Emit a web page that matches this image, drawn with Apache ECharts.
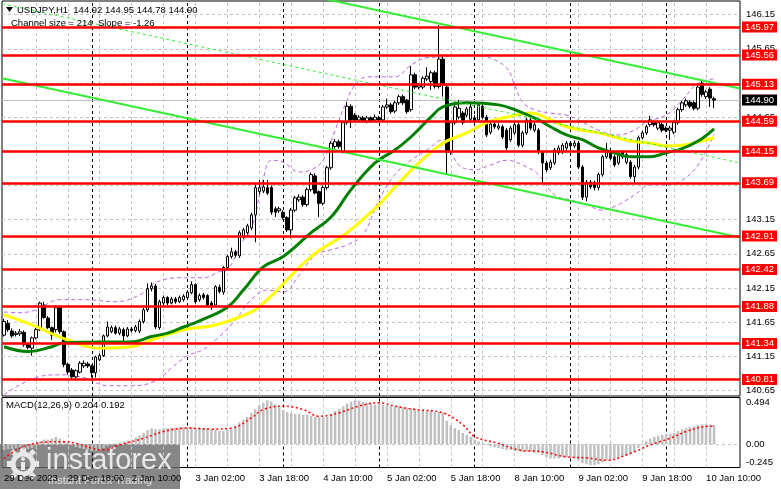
<!DOCTYPE html>
<html><head><meta charset="utf-8">
<script src="https://cdn.jsdelivr.net/npm/echarts@6/dist/echarts.min.js"></script>
<style>html,body{margin:0;padding:0;background:#fff}#c{width:781px;height:489px}</style>
</head><body><div id="c"></div>
<script>
// ---------- timeline ----------
const tradingDays = [['29 Dec',2,23],['2 Jan',0,23],['3 Jan',0,23],['4 Jan',0,23],['5 Jan',0,23],['8 Jan',0,23],['9 Jan',0,23],['10 Jan',0,18]];
const categories = [];
tradingDays.forEach(function(d){ for (let h=d[1]; h<=d[2]; h++) categories.push(d[0]+' '+String(h).padStart(2,'0')+':00'); });
const xTickIndex = [0,16,32,48,64,80,96,112,128,144,160,176];
const xTickText = ['29 Dec 2023','29 Dec 18:00','2 Jan 10:00','3 Jan 02:00','3 Jan 18:00','4 Jan 10:00','5 Jan 02:00','5 Jan 18:00','8 Jan 10:00','9 Jan 02:00','9 Jan 18:00','10 Jan 10:00'];
const vGridIndex = [8,16,24,32,40,48,56,64,72,80,88,96,104,112,120,128,136,144,152,160,168,176];

// ---------- price data (H1) ----------
const opens = [141.46,141.63,141.52,141.47,141.48,141.50,141.32,141.27,141.42,141.54,
141.90,141.71,141.57,141.54,141.86,141.51,141.03,140.95,140.85,140.92,
141.01,141.04,141.01,140.91,141.10,141.16,141.45,141.51,141.57,141.49,
141.54,141.45,141.55,141.53,141.52,141.66,141.83,142.14,142.18,141.57,
141.93,142.01,141.93,141.99,141.95,141.98,142.01,142.08,142.20,141.98,
142.05,142.04,141.93,141.90,142.16,142.09,142.45,142.61,142.68,142.62,
142.90,142.96,143.03,143.22,143.56,143.57,143.62,143.62,143.31,143.28,
143.26,143.18,143.00,143.29,143.44,143.48,143.37,143.59,143.79,143.56,
143.39,143.62,143.91,144.22,144.29,144.14,144.57,144.81,144.68,144.61,
144.64,144.59,144.64,144.61,144.64,144.61,144.80,144.83,144.74,144.86,
144.95,144.90,144.76,145.27,145.09,145.09,145.21,145.17,145.30,145.10,
145.50,145.09,144.14,144.57,144.65,144.71,144.68,144.62,144.64,144.61,
144.81,144.65,144.43,144.55,144.49,144.51,144.46,144.32,144.42,144.54,
144.24,144.42,144.61,144.46,144.46,144.13,143.98,143.91,143.98,144.13,
144.14,144.20,144.27,144.23,144.27,143.92,143.48,143.70,143.69,143.62,
143.81,144.07,144.13,144.07,143.98,144.14,143.99,143.99,143.78,143.92,
144.35,144.42,144.54,144.58,144.49,144.54,144.49,144.46,144.43,144.57,
144.76,144.83,144.87,144.86,144.78,145.15,144.95,145.06,144.92];
const closes = [141.66,141.54,141.45,141.49,141.51,141.32,141.28,141.42,141.54,141.93,
141.72,141.57,141.46,141.86,141.51,141.03,140.92,140.85,140.94,141.05,
141.05,141.01,140.91,141.14,141.16,141.45,141.58,141.57,141.49,141.55,
141.45,141.55,141.53,141.58,141.66,141.83,142.14,142.18,141.58,141.95,
142.01,141.93,141.99,141.95,142.01,142.03,142.09,142.20,141.95,142.04,
142.01,141.90,141.89,142.17,142.10,142.45,142.61,142.68,142.63,142.96,
143.00,143.06,143.22,143.62,143.62,143.63,143.54,143.26,143.26,143.31,
143.18,143.00,143.29,143.47,143.48,143.37,143.59,143.81,143.54,143.39,
143.62,143.91,144.27,144.29,144.22,144.57,144.81,144.61,144.61,144.65,
144.59,144.64,144.60,144.65,144.61,144.80,144.83,144.73,144.86,144.95,
144.86,144.73,145.27,145.09,145.12,145.22,145.25,145.30,145.10,145.50,
145.12,144.14,144.57,144.80,144.78,144.57,144.77,144.80,144.58,144.83,
144.65,144.39,144.55,144.51,144.52,144.36,144.20,144.49,144.54,144.24,
144.42,144.61,144.49,144.54,144.14,143.98,143.88,143.99,144.17,144.20,
144.24,144.27,144.23,144.27,143.92,143.48,143.70,143.63,143.62,143.81,
144.07,144.17,144.05,143.95,144.10,144.07,144.10,143.78,143.92,144.35,
144.42,144.51,144.61,144.54,144.57,144.46,144.46,144.49,144.57,144.76,
144.86,144.89,144.81,144.78,145.09,144.98,145.02,144.93,144.90];
const highs = [141.70,141.68,141.56,141.52,141.55,141.53,141.35,141.44,141.57,141.95,
141.95,141.74,141.59,141.90,141.88,141.53,141.06,140.98,140.96,141.08,
141.09,141.07,141.03,141.16,141.19,141.47,141.66,141.60,141.60,141.58,
141.57,141.58,141.58,141.61,141.69,141.86,142.22,142.23,142.21,141.98,
142.04,142.03,142.02,142.02,142.04,142.06,142.12,142.25,142.22,142.07,
142.08,142.06,141.96,142.19,142.20,142.47,142.64,142.74,142.71,142.99,
143.03,143.09,143.25,143.66,143.73,143.73,143.73,143.65,143.34,143.34,
143.29,143.20,143.32,143.50,143.52,143.51,143.62,143.84,143.83,143.58,
143.65,143.94,144.30,144.33,144.32,144.60,144.87,144.84,144.71,144.68,
144.67,144.67,144.66,144.69,144.67,144.83,144.92,144.86,144.89,144.98,
144.98,144.92,145.40,145.30,145.15,145.25,145.38,145.33,145.33,146.00,
145.55,145.12,144.60,144.83,144.90,144.74,144.80,144.87,144.68,144.87,
144.84,144.68,144.58,144.58,144.56,144.54,144.49,144.52,144.58,144.57,
144.45,144.64,144.64,144.57,144.49,144.16,144.01,144.03,144.20,144.24,
144.27,144.30,144.30,144.31,144.30,143.95,143.73,143.73,143.72,143.84,
144.10,144.27,144.20,144.10,144.13,144.17,144.13,144.02,143.95,144.38,
144.45,144.54,144.67,144.61,144.60,144.57,144.52,144.52,144.60,144.79,
144.89,144.92,144.90,144.89,145.12,145.19,145.05,145.09,144.95];
const lows = [141.44,141.51,141.42,141.44,141.45,141.29,141.25,141.16,141.40,141.52,
141.70,141.55,141.39,141.50,141.48,140.99,140.88,140.81,140.82,140.90,
140.98,140.98,140.84,140.84,141.08,141.14,141.43,141.49,141.47,141.46,
141.36,141.43,141.50,141.50,141.49,141.63,141.80,142.10,141.55,141.54,
141.90,141.90,141.91,141.92,141.93,141.95,141.98,142.06,141.92,141.95,
141.98,141.88,141.83,141.88,142.07,142.05,142.42,142.58,142.60,142.59,
142.87,142.93,143.00,142.82,143.52,143.54,143.51,143.22,143.19,143.25,
143.15,142.97,142.88,143.26,143.41,143.34,143.34,143.56,143.52,143.19,
143.36,143.59,143.88,144.19,144.19,144.12,144.54,144.49,144.58,144.58,
144.57,144.56,144.57,144.58,144.58,144.58,144.77,144.70,144.71,144.83,
144.83,144.70,144.73,145.06,145.06,145.06,145.18,145.05,145.07,145.07,
144.95,143.83,144.10,144.54,144.62,144.54,144.65,144.59,144.55,144.58,
144.62,144.36,144.40,144.48,144.46,144.33,144.17,144.29,144.39,144.21,
144.21,144.39,144.46,144.43,144.11,143.69,143.85,143.88,143.95,144.10,
144.11,144.17,144.20,144.20,143.89,143.44,143.42,143.60,143.58,143.58,
143.78,144.04,144.02,143.92,143.95,144.04,143.96,143.75,143.69,143.89,
144.32,144.39,144.51,144.51,144.46,144.43,144.43,144.32,144.40,144.54,
144.73,144.80,144.78,144.75,144.75,144.95,144.92,144.80,144.78];

// ---------- indicators: [bar index, price] ----------
const greenMA = [[0,141.29],[6,141.22],[12,141.29],[15,141.35],[24,141.36],[32,141.36],[37,141.44],[41,141.49],[45,141.58],[49,141.67],[56,141.87],[60,142.12],[65,142.46],[70,142.61],[77,142.96],[82,143.19],[87,143.59],[93,143.98],[98,144.17],[102,144.36],[107,144.65],[110,144.80],[116,144.86],[124,144.83],[128,144.76],[134,144.61],[137,144.51],[141,144.39],[145,144.32],[149,144.20],[153,144.13],[157,144.07],[162,144.07],[166,144.13],[170,144.19],[174,144.30],[178,144.48]];
const yellowMA = [[0,141.76],[7,141.61],[16,141.39],[24,141.27],[32,141.29],[37,141.39],[45,141.54],[53,141.61],[62,141.80],[66,141.98],[77,142.61],[86,142.96],[94,143.37],[99,143.69],[104,143.98],[110,144.27],[116,144.42],[121,144.57],[126,144.65],[132,144.71],[137,144.61],[141,144.51],[145,144.46],[149,144.42],[153,144.36],[157,144.30],[162,144.27],[166,144.23],[170,144.24],[174,144.29],[178,144.35]];
const bandUpper = [[0,141.80],[4,141.79],[8,141.83],[14,141.98],[20,141.98],[28,141.95],[34,142.05],[38,142.23],[44,142.30],[50,142.30],[54,142.39],[56,142.42],[60,142.85],[62,143.00],[65,143.75],[67,144.02],[70,143.99],[74,143.85],[77,143.88],[80,144.02],[83,144.46],[86,144.90],[88,145.12],[91,145.24],[95,145.24],[98,145.24],[102,145.41],[106,145.52],[110,145.53],[116,145.56],[121,145.53],[126,145.37],[128,145.12],[130,144.87],[133,144.76],[137,144.71],[141,144.68],[144,144.61],[149,144.46],[154,144.39],[158,144.46],[161,144.58],[166,144.68],[170,144.90],[174,145.15],[178,145.21]];
const bandLower = [[0,140.59],[8,140.84],[14,140.88],[20,140.84],[26,140.72],[32,140.72],[38,140.79],[42,140.98],[46,141.16],[50,141.25],[54,141.44],[58,141.68],[62,141.98],[66,142.12],[70,142.09],[74,142.34],[78,142.63],[82,142.71],[86,142.78],[90,142.93],[94,143.44],[98,143.81],[102,144.02],[106,144.17],[110,144.32],[114,143.95],[118,143.88],[122,143.95],[126,144.02],[130,143.95],[134,143.81],[138,143.51],[142,143.44],[146,143.37],[150,143.29],[154,143.37],[158,143.51],[162,143.66],[166,143.66],[170,143.73],[174,143.95],[178,144.40]];
// regression channel endpoints: [bar index, price]
const channelUpper = [[-0.5,147.40],[184.5,145.07]];
const channelMid = [[-0.5,146.31],[184.5,143.98]];
const channelLower = [[-0.5,145.22],[184.5,142.89]];
const channelText = 'Channel size = 214  Slope = -1.26';

// ---------- levels and ticks ----------
const redLevels = [145.97,145.56,145.13,144.59,144.15,143.69,142.91,142.42,141.88,141.34,140.81];
const priceTicks = [146.15,145.65,145.15,144.65,144.15,143.65,143.15,142.65,142.15,141.65,141.15,140.65];
const macdTicks = [0.494,0,-0.245];

// ---------- MACD(12,26,9) ----------
const macdHist = [-0.06,-0.05,-0.05,-0.04,-0.04,-0.05,-0.05,-0.04,-0.02,
0.03,0.05,0.05,0.06,0.078,0.06,
0.04,0.02,-0.01,-0.03,
-0.04,-0.05,-0.06,-0.07,-0.07,-0.06,-0.04,-0.02,-0.01,
0.01,0.02,0.03,0.04,
0.05,0.07,0.09,0.12,0.15,0.17,0.16,
0.16,0.17,0.17,0.175,0.175,0.18,0.18,0.18,0.18,0.17,0.17,0.17,0.165,0.16,
0.15,0.145,0.14,0.145,0.16,0.19,
0.23,0.26,0.29,0.33,0.37,0.41,0.44,0.464,
0.45,0.42,0.39,0.36,0.34,0.33,
0.32,0.32,0.31,0.31,0.30,0.29,0.285,0.28,
0.29,0.32,0.35,0.37,0.40,0.43,0.45,0.464,
0.46,0.45,0.44,0.43,0.42,0.42,
0.42,0.41,0.41,0.40,0.40,0.39,0.38,0.38,0.37,0.36,0.36,0.35,0.35,0.34,0.34,0.335,
0.25,0.20,0.17,0.15,0.12,0.10,0.08,
0.05,0.03,0.01,-0.01,-0.02,-0.03,
-0.04,-0.05,-0.06,-0.06,-0.07,-0.07,-0.08,-0.08,-0.08,-0.09,-0.09,-0.11,
-0.14,-0.15,-0.15,-0.15,-0.14,-0.14,
-0.14,-0.15,-0.17,-0.20,-0.21,
-0.22,-0.22,-0.21,-0.19,-0.17,
-0.16,-0.15,-0.14,-0.13,-0.12,-0.11,-0.08,-0.04,-0.01,
0.03,0.06,0.08,0.09,0.10,0.10,0.11,
0.12,0.14,0.16,0.17,0.18,0.19,0.20,0.21,0.21,0.21,0.204];
const macdSignal = [[0,-0.15],[6,-0.007],[15,0.028],[18,0.01],[25,-0.06],[29,-0.007],[35,0.064],[40,0.135],[46,0.171],[52,0.16],[57,0.171],[62,0.278],[65,0.367],[70,0.403],[75,0.367],[79,0.296],[84,0.332],[89,0.403],[94,0.439],[98,0.403],[103,0.367],[110,0.332],[115,0.207],[118,0.082],[124,0.01],[129,-0.06],[135,-0.079],[141,-0.132],[146,-0.143],[151,-0.168],[157,-0.096],[162,-0.007],[167,0.064],[171,0.135],[176,0.189],[178,0.192]];

// ---------- build ----------
const F = 'Liberation Sans, Arial, sans-serif';
const FS = 9.5;
const N = opens.length;
const last = N - 1;
const candles = opens.map(function(o,i){ return [o, closes[i], lows[i], highs[i]]; });
const separators = [];
categories.forEach(function(c,i){ if (i>0 && c.endsWith(' 00:00')) separators.push(i); });

const chart = echarts.init(document.getElementById('c'), null, {renderer:'canvas'});
const vLines = vGridIndex.map(function(i){ return {xAxis:i, lineStyle:{color:'#c4c4c4', type:[3,3], width:1}}; })
  .concat(separators.map(function(i){ return {xAxis:i, lineStyle:{color:'#000', type:[3,3], width:1}}; }));

const option = {
  animation:false,
  backgroundColor:'#fff',
  grid:[
    {left:2, top:1, width:738, height:395, show:true, borderColor:'#000', borderWidth:1, backgroundColor:'#fff', outerBoundsMode:'none'},
    {left:2, top:397.5, width:738, height:70, show:true, borderColor:'#000', borderWidth:1, outerBoundsMode:'none'}
  ],
  xAxis:[
    {type:'category', gridIndex:0, data:categories, boundaryGap:true, axisLine:{show:false}, axisTick:{show:false}, axisLabel:{show:false}, splitLine:{show:false}},
    {type:'category', gridIndex:1, data:categories, boundaryGap:true, axisLine:{show:false}, axisTick:{show:false}, splitLine:{show:false},
      axisLabel:{show:true, interval:function(idx){ return xTickIndex.indexOf(idx) >= 0; },
        formatter:function(v, idx){ const k = xTickIndex.indexOf(idx); return k >= 0 ? xTickText[k] : ''; },
        align:'left', color:'#000', fontSize:FS, fontFamily:F, margin:6}},
    {type:'value', gridIndex:0, min:-0.5, max:184.5, show:false},
    {type:'value', gridIndex:1, min:-0.5, max:184.5, show:false}
  ],
  yAxis:[
    {type:'value', gridIndex:0, min:140.57, max:146.35, position:'right', axisLine:{show:false}, axisTick:{show:false}, axisLabel:{show:false}, splitLine:{show:false}},
    {type:'value', gridIndex:1, min:-0.245, max:0.494, position:'right', axisLine:{show:false}, axisTick:{show:false}, axisLabel:{show:false}, splitLine:{show:false}}
  ],
  series:[
    // price grid + tick labels
    {type:'line', xAxisIndex:2, yAxisIndex:0, data:[], silent:true,
      markLine:{silent:true, symbol:'none', z:1, animation:false, precision:2,
        label:{show:true, position:'end', distance:6, color:'#000', fontSize:FS, fontFamily:F, formatter:function(p){ return p.value.toFixed(2); }},
        lineStyle:{color:'#c4c4c4', type:[3,3], width:1},
        data: priceTicks.map(function(v){ return {yAxis:v}; }).concat(vLines.map(function(d){ return Object.assign({label:{show:false}}, d); }))}},
    // current price line
    {type:'line', xAxisIndex:2, yAxisIndex:0, data:[], silent:true,
      markLine:{silent:true, symbol:'none', z:3, animation:false, precision:2,
        label:{show:true, position:'end', distance:2, color:'#fff', backgroundColor:'#000', padding:[1,3,0,3], fontSize:FS, fontFamily:F, formatter:function(p){ return p.value.toFixed(2); }},
        lineStyle:{color:'#c0c0c0', type:'solid', width:1},
        data:[{yAxis:closes[last]}]}},
    // Bollinger bands
    {type:'line', xAxisIndex:2, yAxisIndex:0, data:bandUpper, smooth:0.4, showSymbol:false, silent:true, z:2, lineStyle:{color:'#bb66dd', width:1, type:[4,3]}},
    {type:'line', xAxisIndex:2, yAxisIndex:0, data:bandLower, smooth:0.4, showSymbol:false, silent:true, z:2, lineStyle:{color:'#bb66dd', width:1, type:[4,3]}},
    // candles
    {type:'candlestick', xAxisIndex:0, yAxisIndex:0, data:candles, barWidth:3, silent:true, z:3,
      itemStyle:{color:'#fff', color0:'#000', borderColor:'#000', borderColor0:'#000', borderWidth:1}},
    // moving averages
    {type:'line', xAxisIndex:2, yAxisIndex:0, data:yellowMA, smooth:0.4, showSymbol:false, silent:true, z:4, lineStyle:{color:'#ffff00', width:3}},
    {type:'line', xAxisIndex:2, yAxisIndex:0, data:greenMA, smooth:0.4, showSymbol:false, silent:true, z:4, lineStyle:{color:'#008000', width:3}},
    // channel
    {type:'line', xAxisIndex:2, yAxisIndex:0, data:channelUpper, showSymbol:false, silent:true, z:5, lineStyle:{color:'#33ee33', width:2}},
    {type:'line', xAxisIndex:2, yAxisIndex:0, data:channelLower, showSymbol:false, silent:true, z:5, lineStyle:{color:'#33ee33', width:2}},
    {type:'line', xAxisIndex:2, yAxisIndex:0, data:channelMid, showSymbol:false, silent:true, z:5, lineStyle:{color:'#33ee33', width:1, type:[3,3]}},
    // red levels
    {type:'line', xAxisIndex:2, yAxisIndex:0, data:[], silent:true,
      markLine:{silent:true, symbol:'none', z:8, animation:false, precision:2,
        label:{show:true, position:'end', distance:2, color:'#fff', backgroundColor:'#ff0000', padding:[1,3,0,3], fontSize:FS, fontFamily:F, formatter:function(p){ return p.value.toFixed(2); }},
        lineStyle:{color:'#ff0000', type:'solid', width:2.5},
        data: redLevels.map(function(v){ return {yAxis:v}; })}},
    // MACD panel grid
    {type:'line', xAxisIndex:3, yAxisIndex:1, data:[], silent:true,
      markLine:{silent:true, symbol:'none', z:1, animation:false, precision:3,
        label:{show:true, position:'end', distance:6, color:'#000', fontSize:FS, fontFamily:F, formatter:function(p){ return p.value === 0 ? '0.00' : String(p.value); }},
        lineStyle:{color:'#c4c4c4', type:[3,3], width:1},
        data: [
          {yAxis:macdTicks[0], label:{show:true, verticalAlign:'top', color:'#000'}, lineStyle:{color:'rgba(0,0,0,0)', width:1}},
          {yAxis:macdTicks[1]},
          {yAxis:macdTicks[2], label:{show:true, verticalAlign:'bottom', color:'#000'}, lineStyle:{color:'rgba(0,0,0,0)', width:1}}
        ].concat(vLines.map(function(d){ return Object.assign({label:{show:false}}, d); }))}},
    {type:'bar', xAxisIndex:1, yAxisIndex:1, data:macdHist, barWidth:2.5, silent:true, z:2, itemStyle:{color:'#c0c0c0'}},
    {type:'line', xAxisIndex:3, yAxisIndex:1, data:macdSignal, smooth:0.4, showSymbol:false, silent:true, z:3, lineStyle:{color:'#ff0000', width:1.5, type:[2,2.5]}}
  ],
  graphic:[
    {type:'polygon', shape:{points:[[6,7],[13,7],[9.5,12]]}, style:{fill:'#000'}, z:20},
    {type:'text', x:17, y:10, z:20, style:{text:'USDJPY,H1  '+opens[last].toFixed(2)+' '+highs[last].toFixed(2)+' '+lows[last].toFixed(2)+' '+closes[last].toFixed(2), font:FS+'px '+F, fill:'#000', verticalAlign:'middle'}},
    {type:'text', x:11, y:23.5, z:20, style:{text:channelText, font:FS+'px '+F, fill:'#000', verticalAlign:'middle'}},
    {type:'text', x:6, y:405.5, z:20, style:{text:'MACD(12,26,9) '+macdHist[last].toFixed(3)+' '+macdSignal[macdSignal.length-1][1].toFixed(3), font:FS+'px '+F, fill:'#000', verticalAlign:'middle'}},
    {type:'group', z:30, children:[
      {type:'rect', shape:{x:0, y:444, width:180, height:45}, style:{fill:'rgba(105,105,105,0.8)'}},
      {type:'circle', shape:{cx:23, cy:464, r:10}, style:{fill:'none', stroke:'#e8e8e8', lineWidth:5}},
      {type:'rect', shape:{x:20, y:448, width:6, height:4}, style:{fill:'#e8e8e8'}},
      {type:'rect', shape:{x:20, y:476, width:6, height:4}, style:{fill:'#e8e8e8'}},
      {type:'rect', shape:{x:7, y:461, width:4, height:6}, style:{fill:'#e8e8e8'}},
      {type:'rect', shape:{x:35, y:461, width:4, height:6}, style:{fill:'#e8e8e8'}},
      {type:'rect', shape:{x:11, y:450, width:5, height:5}, rotation:0.785, originX:13.5, originY:452.5, style:{fill:'#e8e8e8'}},
      {type:'rect', shape:{x:30, y:450, width:5, height:5}, rotation:0.785, originX:32.5, originY:452.5, style:{fill:'#e8e8e8'}},
      {type:'rect', shape:{x:11, y:473, width:5, height:5}, rotation:0.785, originX:13.5, originY:475.5, style:{fill:'#e8e8e8'}},
      {type:'rect', shape:{x:30, y:473, width:5, height:5}, rotation:0.785, originX:32.5, originY:475.5, style:{fill:'#e8e8e8'}},
      {type:'circle', shape:{cx:23, cy:459, r:2}, style:{fill:'#e8e8e8'}},
      {type:'rect', shape:{x:21, y:462, width:4, height:8}, style:{fill:'#e8e8e8'}},
      {type:'text', x:46, y:461, style:{text:'instaforex', font:'29px '+F, fill:'rgba(238,238,238,0.95)', verticalAlign:'middle'}},
      {type:'text', x:48, y:481, style:{text:'Instant Forex Trading', font:'11px '+F, fill:'rgba(230,230,230,0.95)', verticalAlign:'middle'}}
    ]}
  ]
};
chart.setOption(option);
</script>
</body></html>
